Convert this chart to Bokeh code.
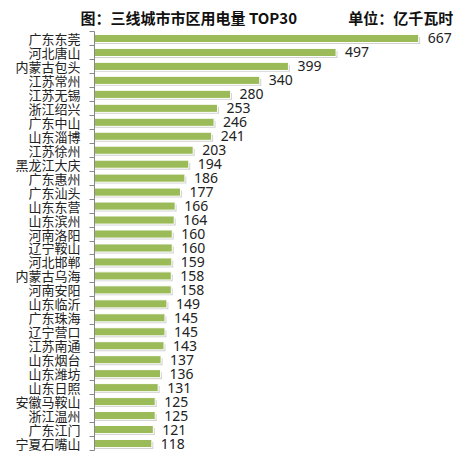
from bokeh.plotting import figure
from bokeh.models import Range1d, FixedTicker, ColumnDataSource
from bokeh.core.properties import value
from bokeh.embed import file_html
from bokeh.resources import INLINE

cities = ["广东东莞", "河北唐山", "内蒙古包头", "江苏常州", "江苏无锡", "浙江绍兴",
          "广东中山", "山东淄博", "江苏徐州", "黑龙江大庆", "广东惠州", "广东汕头",
          "山东东营", "山东滨州", "河南洛阳", "辽宁鞍山", "河北邯郸", "内蒙古乌海",
          "河南安阳", "山东临沂", "广东珠海", "辽宁营口", "江苏南通", "山东烟台",
          "山东潍坊", "山东日照", "安徽马鞍山", "浙江温州", "广东江门", "宁夏石嘴山"]
values = [667, 497, 399, 340, 280, 253, 246, 241, 203, 194, 186, 177, 166, 164, 160,
          160, 159, 158, 158, 149, 145, 145, 143, 137, 136, 131, 125, 125, 121, 118]
title_text = "图：三线城市市区用电量 TOP30"
unit_text = "单位：亿千瓦时"

n = len(cities)
ys = list(range(n))
src = ColumnDataSource(dict(y=ys, v=values, lab=[str(v) for v in values],
                            ys=[y + 0.14 for y in ys], vs=[v + 3 for v in values]))

p = figure(width=460, height=455, output_backend="svg", toolbar_location=None,
           x_range=Range1d(0, 753), y_range=Range1d(n - 0.5, -0.5),
           min_border_left=94, min_border_right=0, min_border_top=30, min_border_bottom=5,
           title=title_text + "\u00a0" * 15 + unit_text)
p.outline_line_color = None
p.grid.visible = False
p.xaxis.visible = False
p.background_fill_color = "white"

p.title.align = "left"
p.title.offset = -14
p.title.text_font = "Noto Sans CJK SC"
p.title.text_font_style = "bold"
p.title.text_font_size = "15px"
p.title.text_color = "#111111"
p.title.standoff = 8

yaxis = p.yaxis[0]
yaxis.ticker = FixedTicker(ticks=ys, minor_ticks=[i - 0.5 for i in range(n + 1)])
yaxis.major_label_overrides = {i: c for i, c in enumerate(cities)}
yaxis.major_tick_line_color = None
yaxis.minor_tick_out = 5
yaxis.minor_tick_in = 0
yaxis.minor_tick_line_color = "#888888"
yaxis.axis_line_color = "#888888"
yaxis.major_label_standoff = 8
yaxis.major_label_text_font = "Noto Sans CJK SC"
yaxis.major_label_text_font_size = "13px"
yaxis.major_label_text_color = "#222222"

# shadow
p.hbar(y="ys", right="vs", left=0, height=0.5, source=src,
       fill_color="#bdbdbd", fill_alpha=0.7, line_color=None)
p.hbar(y="y", right="v", left=0, height=0.58, source=src, fill_color="#9bbb59",
       line_color="white", line_width=1)

p.text(x="v", y="y", text="lab", source=src, x_offset=9, text_baseline="middle",
       text_font=value("Noto Sans"), text_font_size="14px", text_color="#222222")

open("out.html", "w").write(file_html(p, INLINE))
